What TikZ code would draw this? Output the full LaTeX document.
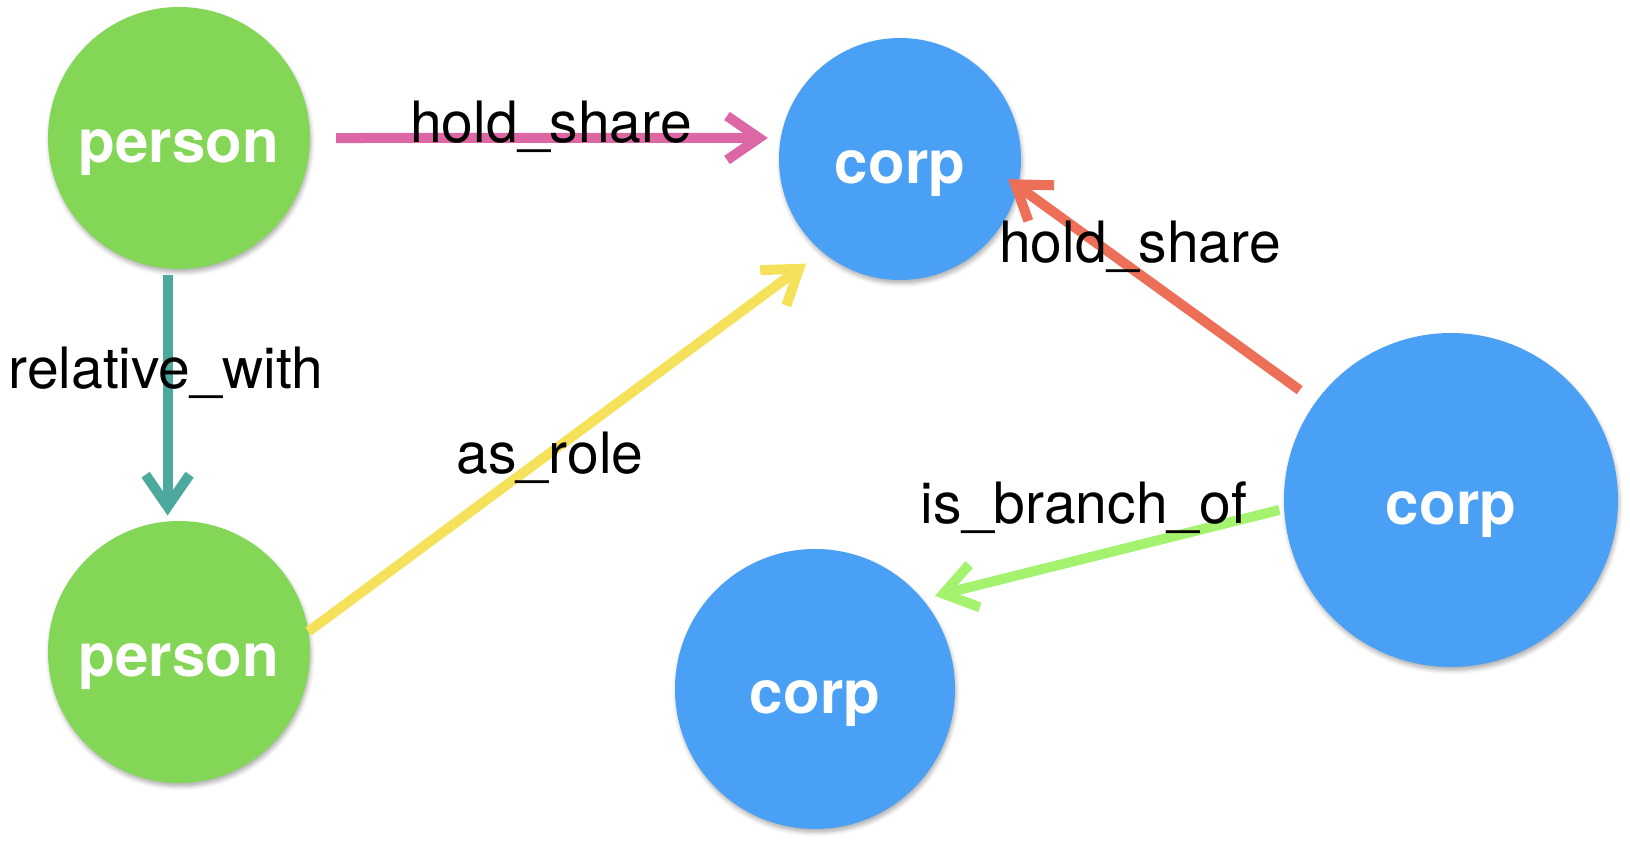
\documentclass[tikz,border=0pt]{standalone}
\usepackage{fontspec}
\setmainfont{TeX Gyre Heros}
\usetikzlibrary{arrows.meta,shadows.blur}
\definecolor{persongreen}{RGB}{131,214,86}
\definecolor{corpblue}{RGB}{74,160,245}
\definecolor{sharepink}{RGB}{221,103,165}
\definecolor{relteal}{RGB}{77,168,158}
\definecolor{roleyellow}{RGB}{245,226,90}
\definecolor{sharered}{RGB}{237,111,88}
\definecolor{branchgreen}{RGB}{165,242,110}

\begin{document}
\begin{tikzpicture}[x=0.5pt,y=-0.5pt,
  ent/.style={circle,inner sep=0pt,outer sep=0pt,text=white,
    font=\fontsize{30}{36}\selectfont\bfseries,text height=24pt,text depth=0pt,
    blur shadow={shadow xshift=0.6pt,shadow yshift=-1.8pt,shadow blur radius=2pt,shadow opacity=30}},
  personnode/.style={ent,fill=persongreen,minimum size=131pt},
  corpnode/.style={ent,fill=corpblue},
  rel/.style={line width=5pt,-{Straight Barb[length=16pt,width=22pt]}},
  lbl/.style={font=\fontsize{28.5}{34}\selectfont,anchor=base}]
\useasboundingbox (0,0) rectangle (1630,846);
% entities
\node[personnode] (p1) at (179,138) {person};
\node[personnode] (p2) at (179,652) {person};
\node[corpnode,minimum size=121pt] (c1) at (900,159) {corp};
\node[corpnode,minimum size=167pt] (c2) at (1451,500) {corp};
\node[corpnode,minimum size=140pt] (c3) at (815,689) {corp};
% relations
\draw[rel,sharepink,shorten <=13pt,shorten >=6.5pt] (p1.0) -- (c1.170);
\draw[rel,relteal,shorten <=3pt,shorten >=3pt] (p1.265) -- (p2.95);
\draw[rel,roleyellow,shorten >=10pt] (p2.9) -- (c1.230);
\draw[rel,sharered,shorten <=10pt,shorten >=-6pt] (c2.144) -- (c1.-13);
\draw[rel,branchgreen,shorten <=2.5pt,shorten >=6.5pt] (c2.183) -- (c3.40);
% relation labels
\node[lbl] (l1) at (551,142) {hold\_share};
\node[lbl] (l2) at (166,388) {relative\_with};
\node[lbl] (l3) at (550,473) {as\_role};
\node[lbl] (l4) at (1140,262) {hold\_share};
\node[lbl] (l5) at (1084,523) {is\_branch\_of};
\end{tikzpicture}
\end{document}
